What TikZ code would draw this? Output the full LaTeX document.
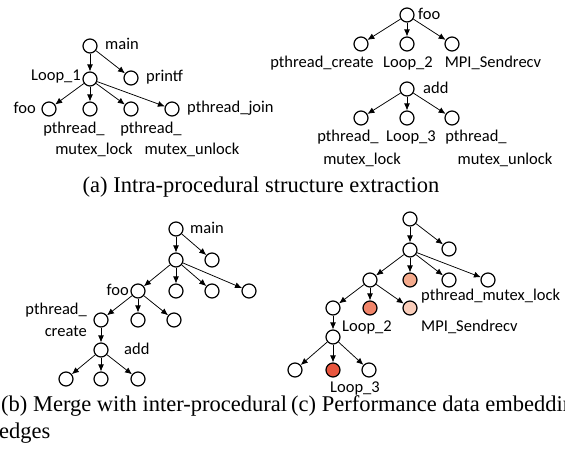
\documentclass[tikz,border=0pt]{standalone}
\usepackage{fontspec}
\setmainfont{Liberation Serif}
\newfontfamily\labfont{Carlito}
\usetikzlibrary{arrows.meta}
\definecolor{heatA}{RGB}{244,170,140}
\definecolor{heatB}{RGB}{240,132,105}
\definecolor{heatC}{RGB}{249,205,186}
\definecolor{heatD}{RGB}{232,86,62}
\tikzset{
  vtx/.style={circle,draw=black,line width=1.2pt,fill=white,minimum size=14pt,inner sep=0pt},
  arc/.style={-{Latex[length=7pt,width=6pt]},line width=0.75pt},
  lbl/.style={font=\labfont\fontsize{16.5}{18}\selectfont,inner sep=0pt},
  captext/.style={font=\fontsize{22.5}{26}\selectfont,inner sep=0pt}
}
\begin{document}
\begin{tikzpicture}[x=1pt,y=-1pt]
\useasboundingbox (0,0) rectangle (565,457);
\clip (0,0) rectangle (565,457);

% ---------- (a) left tree: main ----------
\node[vtx] (am) at (90,46) {};
\node[vtx] (apf) at (131,78) {};
\node[vtx] (al1) at (90,79) {};
\node[vtx] (afoo) at (49,109) {};
\node[vtx] (alock) at (90,109) {};
\node[vtx] (aunlock) at (131,109) {};
\node[vtx] (ajoin) at (172,109) {};
\draw[arc] (am) -- (al1);
\draw[arc] (am) -- (apf);
\draw[arc] (al1) -- (afoo);
\draw[arc] (al1) -- (alock);
\draw[arc] (al1) -- (aunlock);
\draw[arc] (al1) -- (ajoin);
\node[lbl,anchor=west] (tam) at (105,44) {main};
\node[lbl,anchor=west] (tapf) at (146,77) {printf};
\node[lbl,anchor=east] (tal1) at (81,77) {Loop\_1};
\node[lbl,anchor=east] (tafoo) at (36,108) {foo};
\node[lbl,anchor=west] (tajoin) at (187,108) {pthread\_join};
\node[lbl] (talock1) at (74,129) {pthread\_};
\node[lbl] (talock2) at (94,150) {mutex\_lock};
\node[lbl] (taun1) at (151,129) {pthread\_};
\node[lbl] (taun2) at (192,150) {mutex\_unlock};

% ---------- (a) right trees: foo and add ----------
\node[vtx] (ff) at (407,15) {};
\node[vtx] (fc1) at (361,44) {};
\node[vtx] (fc2) at (407,44) {};
\node[vtx] (fc3) at (452,44) {};
\draw[arc] (ff) -- (fc1);
\draw[arc] (ff) -- (fc2);
\draw[arc] (ff) -- (fc3);
\node[lbl,anchor=west] (tff) at (418,14) {foo};
\node[lbl] (tfc1) at (322,63) {pthread\_create};
\node[lbl] (tfc2) at (408,63) {Loop\_2};
\node[lbl] (tfc3) at (493,63) {MPI\_Sendrecv};

\node[vtx] (dd) at (407,89) {};
\node[vtx] (dc1) at (361,118) {};
\node[vtx] (dc2) at (407,118) {};
\node[vtx] (dc3) at (452,118) {};
\draw[arc] (dd) -- (dc1);
\draw[arc] (dd) -- (dc2);
\draw[arc] (dd) -- (dc3);
\node[lbl,anchor=west] (tdd) at (423,88) {add};
\node[lbl] (tdc1a) at (348,137) {pthread\_};
\node[lbl] (tdc1b) at (362,160) {mutex\_lock};
\node[lbl] (tdc2) at (411,137) {Loop\_3};
\node[lbl] (tdc3a) at (476,137) {pthread\_};
\node[lbl] (tdc3b) at (505,160) {mutex\_unlock};

\node[captext] (capa) at (261,187) {(a) Intra-procedural structure extraction};

% ---------- (b) merged tree ----------
\node[vtx] (b0) at (176,229) {};
\node[vtx] (b1) at (176,260) {};
\node[vtx] (b1r) at (212,260) {};
\node[vtx] (b2) at (138,291) {};
\node[vtx] (b3) at (176,291) {};
\node[vtx] (b4) at (212,291) {};
\node[vtx] (b5) at (249,291) {};
\node[vtx] (b6) at (101,320) {};
\node[vtx] (b7) at (138,320) {};
\node[vtx] (b8) at (174,320) {};
\node[vtx] (b9) at (101,350) {};
\node[vtx] (b10) at (66,379) {};
\node[vtx] (b11) at (101,379) {};
\node[vtx] (b12) at (138,379) {};
\draw[arc] (b0) -- (b1);
\draw[arc] (b0) -- (b1r);
\draw[arc] (b1) -- (b2);
\draw[arc] (b1) -- (b3);
\draw[arc] (b1) -- (b4);
\draw[arc] (b1) -- (b5);
\draw[arc] (b2) -- (b6);
\draw[arc] (b2) -- (b7);
\draw[arc] (b2) -- (b8);
\draw[arc] (b6) -- (b9);
\draw[arc] (b9) -- (b10);
\draw[arc] (b9) -- (b11);
\draw[arc] (b9) -- (b12);
\node[lbl,anchor=west] (tb0) at (190,228) {main};
\node[lbl,anchor=east] (tb2) at (129,290) {foo};
\node[lbl,anchor=east] (tb6a) at (87,310) {pthread\_};
\node[lbl,anchor=east] (tb6b) at (87,331) {create};
\node[lbl,anchor=west] (tb9) at (124,349) {add};

\node[captext,anchor=west] (capb1) at (1,406) {(b) Merge with inter-procedural};
\node[captext,anchor=west] (capb2) at (-1,433) {edges};

% ---------- (c) tree with performance data ----------
\node[vtx] (c0) at (410,219) {};
\node[vtx] (c0r) at (449,249) {};
\node[vtx] (c1) at (410,250) {};
\node[vtx] (c2) at (370,280) {};
\node[vtx,fill=heatA] (c3) at (410,280) {};
\node[vtx] (c4) at (449,280) {};
\node[vtx] (c5) at (488,280) {};
\node[vtx] (c6) at (333,308) {};
\node[vtx,fill=heatB] (c7) at (370,308) {};
\node[vtx,fill=heatC] (c8) at (410,308) {};
\node[vtx] (c9) at (333,337) {};
\node[vtx] (c10) at (295,370) {};
\node[vtx,fill=heatD] (c11) at (333,370) {};
\node[vtx] (c12) at (369,370) {};
\draw[arc] (c0) -- (c1);
\draw[arc] (c0) -- (c0r);
\draw[arc] (c1) -- (c2);
\draw[arc] (c1) -- (c3);
\draw[arc] (c1) -- (c4);
\draw[arc] (c1) -- (c5);
\draw[arc] (c2) -- (c6);
\draw[arc] (c2) -- (c7);
\draw[arc] (c2) -- (c8);
\draw[arc] (c6) -- (c9);
\draw[arc] (c9) -- (c10);
\draw[arc] (c9) -- (c11);
\draw[arc] (c9) -- (c12);
\node[lbl,anchor=west] (tc3) at (421,296) {pthread\_mutex\_lock};
\node[lbl,anchor=west] (tc7) at (342,327) {Loop\_2};
\node[lbl,anchor=west] (tc8) at (421,327) {MPI\_Sendrecv};
\node[lbl,anchor=west] (tc11) at (330,388) {Loop\_3};

\node[captext,anchor=west] (capc) at (291,406) {(c) Performance data embedding};
\end{tikzpicture}
\end{document}
